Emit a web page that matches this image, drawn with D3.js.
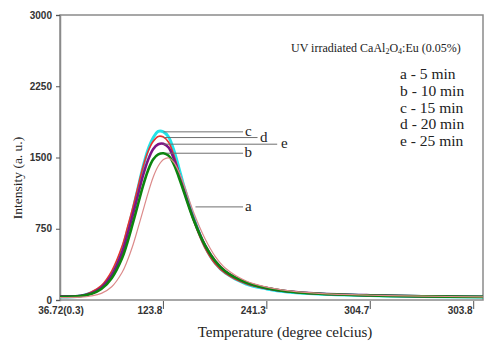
<!DOCTYPE html>
<html><head><meta charset="utf-8">
<script src="https://cdn.jsdelivr.net/npm/d3@7"></script>
<style>body{margin:0;background:#fff}svg{display:block}</style>
</head><body><svg id="c" width="486" height="341"></svg>
<script>
// x positions in tick-index units (0 = first tick label, 1 = second, ...)
const xs = [0, 0.2, 0.3, 0.4, 0.5, 0.6, 0.65, 0.7, 0.75, 0.8, 0.85, 0.9, 0.95, 1.0, 1.05, 1.1, 1.15, 1.2, 1.3, 1.4, 1.5, 1.6, 1.8, 2.0, 2.2, 2.5, 3.0, 3.5, 4.09];
const xTickLabels = ["36.72(0.3)", "123.8", "241.3", "304.7", "303.8"];
const xTickPos = [0, 1, 2, 3, 4];
const yTicks = [0, 750, 1500, 2250, 3000];
const seriesNames = ["c", "d", "e", "b", "a"];
const seriesColors = ["#22e4e8", "#e8322e", "#7d1485", "#0d840f", "#dc8a8a"];
const seriesWidths = [3, 1.6, 2.6, 2.6, 1.2];
const sC = [32, 42, 74, 137, 274, 526, 716, 926, 1158, 1389, 1579, 1705, 1775, 1770, 1716, 1579, 1389, 1189, 842, 568, 389, 284, 168, 116, 84, 63, 47, 37, 32];
const sD = [35, 45, 82, 152, 305, 565, 755, 955, 1175, 1390, 1560, 1668, 1722, 1715, 1660, 1525, 1345, 1150, 810, 552, 382, 280, 170, 118, 88, 65, 48, 38, 32];
const sE = [40, 45, 70, 130, 260, 500, 680, 880, 1090, 1300, 1470, 1588, 1640, 1645, 1605, 1488, 1330, 1150, 830, 580, 410, 300, 185, 125, 92, 68, 50, 40, 34];
const sB = [35, 42, 62, 115, 230, 440, 600, 790, 990, 1190, 1360, 1478, 1532, 1545, 1520, 1430, 1290, 1130, 820, 580, 410, 300, 185, 125, 90, 66, 48, 38, 33];
const sA = [25, 30, 42, 70, 140, 290, 410, 560, 740, 930, 1120, 1290, 1410, 1478, 1495, 1450, 1350, 1210, 900, 650, 460, 335, 200, 135, 98, 70, 50, 40, 33];
const seriesValues = [sC, sD, sE, sB, sA];
// leader-line annotations: label, y value, line start x, line end x, label x
const annLabels = ["c", "d", "e", "b", "a"];
const annY = [1770, 1710, 1640, 1545, 980];
const annX0 = [1.0, 1.0, 1.0, 1.03, 1.31];
const annX1 = [1.77, 1.91, 2.1, 1.77, 1.77];
const annTX = [1.82, 1.97, 2.17, 1.82, 1.82];
const legendLines = ["a - 5 min", "b - 10 min", "c - 15 min", "d - 20 min", "e - 25 min"];

const svg = d3.select("#c");
const L = 60, R = 483, T = 15, B = 300;
const x = d3.scaleLinear().domain([0, 4.09]).range([L, R]);
const y = d3.scaleLinear().domain([0, 3000]).range([B, T]);
const frame = "#8a8a8a";

// frame
svg.append("rect").attr("x", L).attr("y", T).attr("width", R - L).attr("height", B - T)
  .attr("fill", "none").attr("stroke", frame).attr("stroke-width", 1.5);

// y axis
const ya = svg.append("g").attr("transform", `translate(${L},0)`)
  .call(d3.axisLeft(y).tickValues(yTicks).tickSize(4).tickPadding(4).tickFormat(d3.format("d")));
ya.select(".domain").attr("stroke", frame).attr("stroke-width", 1.5);
ya.selectAll(".tick line").attr("stroke", "#555");
ya.selectAll("text").attr("font-family", "Liberation Sans, Arial, sans-serif")
  .attr("font-size", 10).attr("font-weight", "bold").attr("fill", "#333");

// x ticks
const xa = svg.append("g");
xa.selectAll("line").data(xTickPos.slice(1)).join("line")
  .attr("x1", d => x(d)).attr("x2", d => x(d)).attr("y1", B + 1).attr("y2", B + 9)
  .attr("stroke", "#555").attr("stroke-width", 1);
xa.selectAll("text").data(xTickPos).join("text")
  .attr("x", d => d === 0 ? x(d) + 1 : x(d) - 1).attr("y", 314)
  .attr("text-anchor", d => d === 0 ? "middle" : "end")
  .attr("font-family", "Liberation Sans, Arial, sans-serif").attr("font-size", 10)
  .attr("font-weight", "bold").attr("fill", "#333")
  .text((d, i) => xTickLabels[i]);

// curves
const line = d3.line().x((d, i) => x(xs[i])).y(d => y(d)).curve(d3.curveCatmullRom.alpha(0.5));
seriesValues.forEach((vals, k) => {
  svg.append("path").datum(vals).attr("d", line).attr("fill", "none")
    .attr("stroke", seriesColors[k]).attr("stroke-width", seriesWidths[k])
    .attr("stroke-linejoin", "round");
});

// annotations
const serif = "Liberation Serif, Times New Roman, serif";
annLabels.forEach((lab, i) => {
  svg.append("line").attr("x1", x(annX0[i])).attr("x2", x(annX1[i]))
    .attr("y1", y(annY[i])).attr("y2", y(annY[i])).attr("stroke", "#6f6f6f").attr("stroke-width", 1);
  svg.append("text").attr("x", x(annTX[i])).attr("y", y(annY[i]) + 4)
    .attr("text-anchor", "middle").attr("font-family", serif).attr("font-size", 15)
    .attr("fill", "#222").text(lab);
});

// title annotation
const t = svg.append("text").attr("x", 291).attr("y", 52).attr("font-family", serif)
  .attr("font-size", 12).attr("fill", "#222");
t.append("tspan").text("UV irradiated CaAl");
t.append("tspan").attr("font-size", 8).attr("dy", 2).text("2");
t.append("tspan").attr("dy", -2).text("O");
t.append("tspan").attr("font-size", 8).attr("dy", 2).text("4");
t.append("tspan").attr("dy", -2).text(":Eu (0.05%)");

// legend text
svg.append("g").selectAll("text").data(legendLines).join("text")
  .attr("x", 400).attr("y", (d, i) => 79 + i * 16.8)
  .attr("font-family", serif).attr("font-size", 15.5).attr("fill", "#222").text(d => d);

// axis titles
svg.append("text").attr("x", 285).attr("y", 337).attr("text-anchor", "middle")
  .attr("font-family", serif).attr("font-size", 15).attr("fill", "#222")
  .text("Temperature (degree celcius)");
svg.append("text").attr("transform", "translate(22,178) rotate(-90)").attr("text-anchor", "middle")
  .attr("font-family", serif).attr("font-size", 13.5).attr("fill", "#222")
  .text("Intensity (a. u.)");
</script></body></html>
